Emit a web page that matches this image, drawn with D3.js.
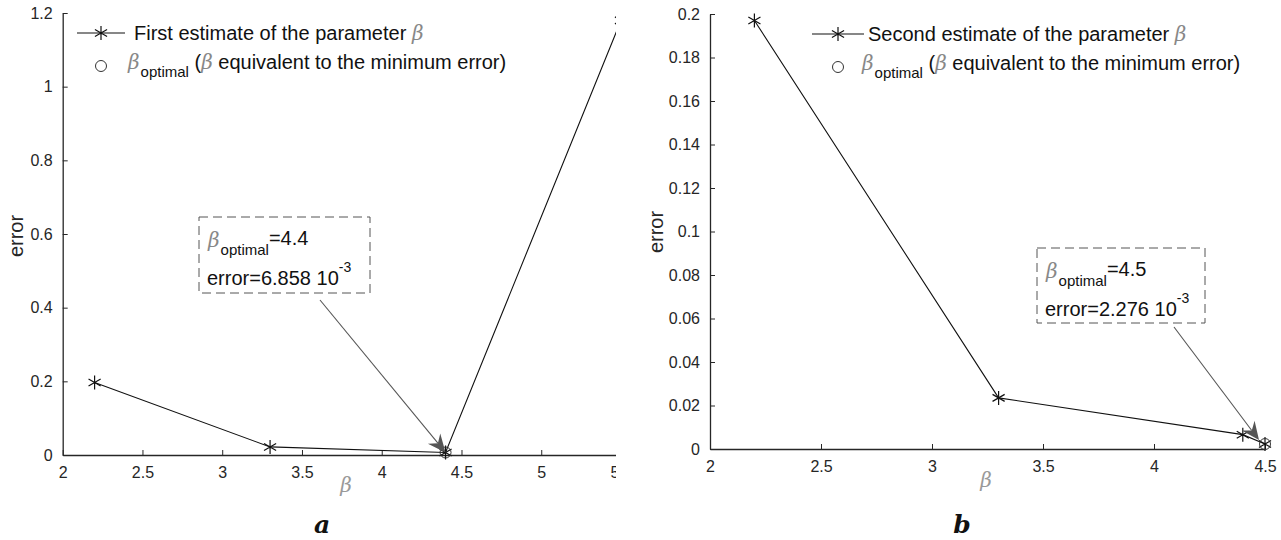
<!DOCTYPE html>
<html>
<head>
<meta charset="utf-8">
<script src="https://cdn.jsdelivr.net/npm/d3@7"></script>
<style>
  body { margin: 0; background: #fff; }
  svg { display: block; }
  .tick text { font-family: "Liberation Sans", Arial, sans-serif; font-size: 16px; fill: #262626; }
  .tick line, .domain { stroke: #262626; }
</style>
</head>
<body>
<div id="chart"></div>
<script>
// ---- data ----
const betaA = [2.2, 3.3, 4.4, 5.5];
const errA = [0.197, 0.022, 0.006858, 1.18];
const optA = [4.4, 0.006858];
const xTicksA = [2, 2.5, 3, 3.5, 4, 4.5, 5, 5.5];
const yTicksA = [0, 0.2, 0.4, 0.6, 0.8, 1, 1.2];

const betaB = [2.2, 3.3, 4.4, 4.5];
const errB = [0.197, 0.0235, 0.0066, 0.002276];
const optB = [4.5, 0.002276];
const xTicksB = [2, 2.5, 3, 3.5, 4, 4.5];
const yTicksB = [0, 0.02, 0.04, 0.06, 0.08, 0.1, 0.12, 0.14, 0.16, 0.18, 0.2];

const legendA = "First estimate of the parameter ";
const legendB = "Second estimate of the parameter ";
const annA = ["=4.4", "error=6.858 10", "-3"];
const annB = ["=4.5", "error=2.276 10", "-3"];

const W = 1281, H = 540;
const sans = '"Liberation Sans", Arial, sans-serif';
const serif = '"DejaVu Serif", "Liberation Serif", serif';

const svg = d3.select("#chart").append("svg")
    .attr("width", W).attr("height", H);

const panels = [
  {id: "a", beta: betaA, err: errA, opt: optA, xt: xTicksA, yt: yTicksA,
   xd: [2, 5.5], xr: [62.7, 621], yd: [0, 1.2], yr: [455, 13], clipW: 616,
   leg: {x0: 77, x1: 125, y: 33, tx: 134, text: legendA},
   box: {x: 199, y: 217, w: 171, h: 76}, arrowFrom: [320, 300], tipOff: [0, 0], ann: annA,
   ylab: [16, 236], xlab: [346, 492], letter: [322, 533]},
  {id: "b", beta: betaB, err: errB, opt: optB, xt: xTicksB, yt: yTicksB,
   xd: [2, 4.5], xr: [710, 1265], yd: [0, 0.2], yr: [449, 14], clipW: null,
   leg: {x0: 812, x1: 864, y: 34, tx: 868, text: legendB},
   box: {x: 1037, y: 248, w: 168, h: 75}, arrowFrom: [1174, 327], tipOff: [-6, -4], ann: annB,
   ylab: [656, 232], xlab: [986, 487], letter: [962, 533]}
];

// asterisk marker like matlab '*'
function starPath(r) {
  const t = r / 2, u = t * Math.sqrt(3);
  return `M0,${-r}L0,${r}M${-u},${-t}L${u},${t}M${-u},${t}L${u},${-t}`;
}

panels.forEach(p => {
  let g = svg.append("g");
  if (p.clipW) {
    svg.append("clipPath").attr("id", "clip_" + p.id)
      .append("rect").attr("x", 0).attr("y", 0).attr("width", p.clipW).attr("height", H);
    g.attr("clip-path", `url(#clip_${p.id})`);
  }

  const x = d3.scaleLinear().domain(p.xd).range(p.xr);
  const y = d3.scaleLinear().domain(p.yd).range(p.yr);

  g.append("g")
    .attr("transform", `translate(0,${p.yr[0]})`)
    .call(d3.axisBottom(x).tickValues(p.xt).tickSizeInner(-5).tickSizeOuter(0).tickPadding(12)
      .tickFormat(d => String(+d.toFixed(2))));
  g.append("g")
    .attr("transform", `translate(${p.xr[0]},0)`)
    .call(d3.axisLeft(y).tickValues(p.yt).tickSizeInner(-5).tickSizeOuter(0).tickPadding(10)
      .tickFormat(d => String(+d.toFixed(2))));
  g.selectAll(".domain").attr("stroke-width", 1.3);

  // line
  const pts = p.beta.map((b, i) => [b, p.err[i]]);
  g.append("path")
    .attr("d", d3.line().x(d => x(d[0])).y(d => y(d[1]))(pts))
    .attr("fill", "none").attr("stroke", "#111").attr("stroke-width", 1.1);
  g.selectAll(".star").data(pts).enter().append("path")
    .attr("transform", d => `translate(${x(d[0])},${y(d[1])})`)
    .attr("d", starPath(7))
    .attr("fill", "none").attr("stroke", "#111").attr("stroke-width", 1.2);
  g.append("circle")
    .attr("cx", x(p.opt[0])).attr("cy", y(p.opt[1])).attr("r", 5.5)
    .attr("fill", "none").attr("stroke", "#333").attr("stroke-width", 1);

  // legend
  const L = p.leg;
  const mid = (L.x0 + L.x1) / 2;
  svg.append("line").attr("x1", L.x0).attr("x2", L.x1).attr("y1", L.y).attr("y2", L.y)
    .attr("stroke", "#111").attr("stroke-width", 1.1);
  svg.append("path").attr("transform", `translate(${mid},${L.y})`).attr("d", starPath(7))
    .attr("fill", "none").attr("stroke", "#111").attr("stroke-width", 1.2);
  const t1 = svg.append("text").attr("x", L.tx).attr("y", L.y + 7)
    .style("font-family", sans).style("font-size", "20px").attr("fill", "#111");
  t1.append("tspan").text(L.text);
  t1.append("tspan").text("β").style("font-family", serif).style("font-style", "italic").attr("fill", "#888");

  svg.append("circle").attr("cx", mid).attr("cy", L.y + 33).attr("r", 5.5)
    .attr("fill", "none").attr("stroke", "#333").attr("stroke-width", 1);
  const t2 = svg.append("text").attr("x", L.tx - 6).attr("y", L.y + 36)
    .style("font-family", sans).style("font-size", "20px").attr("fill", "#111");
  t2.append("tspan").text("β").style("font-family", serif).style("font-style", "italic").attr("fill", "#888");
  t2.append("tspan").text("optimal").attr("dy", 8).style("font-size", "15px").attr("dx", 1);
  t2.append("tspan").text(" (").attr("dy", -8);
  t2.append("tspan").text("β").style("font-family", serif).style("font-style", "italic").attr("fill", "#888");
  t2.append("tspan").text(" equivalent to the minimum error)");

  // annotation box
  const B = p.box;
  svg.append("rect").attr("x", B.x).attr("y", B.y).attr("width", B.w).attr("height", B.h)
    .attr("fill", "none").attr("stroke", "#555").attr("stroke-width", 1)
    .attr("stroke-dasharray", "9,5");
  const a1 = svg.append("text").attr("x", B.x + 9).attr("y", B.y + 30)
    .style("font-family", sans).style("font-size", "20px").attr("fill", "#111");
  a1.append("tspan").text("β").style("font-family", serif).style("font-style", "italic").attr("fill", "#888");
  a1.append("tspan").text("optimal").attr("dy", 8).style("font-size", "15px").attr("dx", 1);
  a1.append("tspan").text(p.ann[0]).attr("dy", -10);
  const a2 = svg.append("text").attr("x", B.x + 8).attr("y", B.y + 68)
    .style("font-family", sans).style("font-size", "20px").attr("fill", "#111");
  a2.append("tspan").text(p.ann[1]);
  a2.append("tspan").text(p.ann[2]).attr("dy", -13).style("font-size", "14px");

  // arrow
  const tip = [x(p.opt[0]) + p.tipOff[0], y(p.opt[1]) + p.tipOff[1]];
  const fr = p.arrowFrom;
  const dx = tip[0] - fr[0], dy = tip[1] - fr[1];
  const len = Math.hypot(dx, dy), ux = dx / len, uy = dy / len;
  const nx = -uy, ny = ux;
  const hl = 18, hw = 8, notch = 6;
  const base = [tip[0] - ux * hl, tip[1] - uy * hl];
  svg.append("line").attr("x1", fr[0]).attr("y1", fr[1])
    .attr("x2", tip[0] - ux * (hl - notch)).attr("y2", tip[1] - uy * (hl - notch))
    .attr("stroke", "#555").attr("stroke-width", 1.1);
  svg.append("path")
    .attr("d", `M${tip[0]},${tip[1]}L${base[0] + nx * hw},${base[1] + ny * hw}` +
      `L${tip[0] - ux * (hl - notch)},${tip[1] - uy * (hl - notch)}` +
      `L${base[0] - nx * hw},${base[1] - ny * hw}Z`)
    .attr("fill", "#555");

  // axis labels
  svg.append("text").attr("transform", `translate(${p.ylab[0]},${p.ylab[1]}) rotate(-90)`)
    .attr("text-anchor", "middle").attr("dy", "0.35em")
    .style("font-family", sans).style("font-size", "20px").attr("fill", "#262626").text("error");
  svg.append("text").attr("x", p.xlab[0]).attr("y", p.xlab[1])
    .attr("text-anchor", "middle")
    .style("font-family", serif).style("font-style", "italic").style("font-size", "20px")
    .attr("fill", "#999").text("β");
  svg.append("text").attr("x", p.letter[0]).attr("y", p.letter[1])
    .attr("text-anchor", "middle")
    .style("font-family", serif).style("font-style", "italic").style("font-weight", "bold")
    .style("font-size", "25px").attr("fill", "#111").text(p.id);
});
</script>
</body>
</html>
